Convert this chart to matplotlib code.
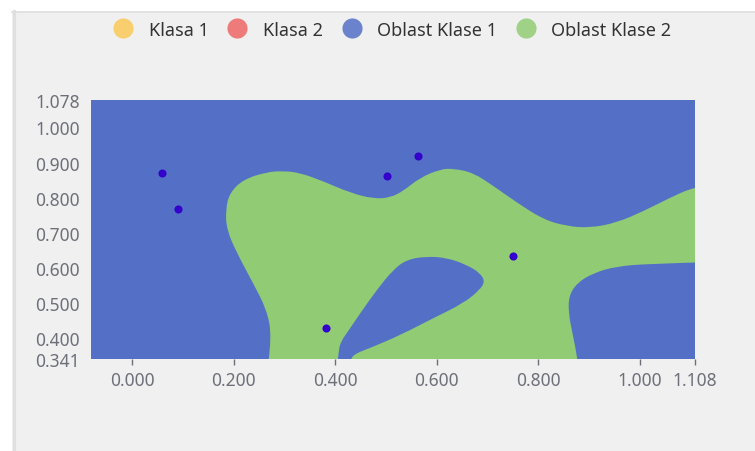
import matplotlib.pyplot as plt
from matplotlib.lines import Line2D
from matplotlib.patches import PathPatch, Rectangle
from matplotlib.path import Path

plt.rcParams["font.family"] = ["Noto Sans", "DejaVu Sans"]

# legend entries
legend_labels = ["Klasa 1", "Klasa 2", "Oblast Klase 1", "Oblast Klase 2"]
legend_colors = ["#fac858", "#ee6666", "#5470c6", "#91cc75"]

# axis ranges and tick values
x_range = [-0.082, 1.108]
y_range = [0.341, 1.078]
x_ticks = [0.0, 0.2, 0.4, 0.6, 0.8, 1.0, 1.108]
y_ticks = [0.341, 0.4, 0.5, 0.6, 0.7, 0.8, 0.9, 1.0, 1.078]

# boundary of the class-2 region
green_x = [0.268, 0.275, 0.265, 0.238, 0.206, 0.186, 0.184, 0.192, 0.219, 0.265,
           0.297, 0.330, 0.376, 0.429, 0.475, 0.508, 0.534, 0.567, 0.607, 0.633,
           0.672, 0.712, 0.758, 0.810, 0.856, 0.902, 0.955, 1.008, 1.060, 1.100,
           1.120, 1.120, 1.021, 0.955, 0.909, 0.876, 0.860, 0.860, 0.866, 0.873,
           0.878]
green_y = [0.330, 0.405, 0.481, 0.557, 0.643, 0.709, 0.767, 0.814, 0.852, 0.873,
           0.876, 0.871, 0.847, 0.814, 0.797, 0.800, 0.819, 0.857, 0.881, 0.883,
           0.871, 0.833, 0.786, 0.738, 0.719, 0.714, 0.729, 0.762, 0.800, 0.826,
           0.829, 0.616, 0.612, 0.605, 0.586, 0.557, 0.519, 0.471, 0.424, 0.376,
           0.330]

# class-1 island inside the class-2 region
island_x = [0.405, 0.406, 0.413, 0.423, 0.449, 0.482, 0.514, 0.541, 0.580, 0.620,
            0.659, 0.685, 0.695, 0.685, 0.653, 0.593, 0.528, 0.475, 0.432, 0.432]
island_y = [0.330, 0.367, 0.395, 0.415, 0.471, 0.538, 0.595, 0.624, 0.633, 0.629,
            0.609, 0.586, 0.562, 0.538, 0.500, 0.457, 0.409, 0.376, 0.352, 0.330]

# data points
pts_x = [0.058, 0.091, 0.501, 0.563, 0.751, 0.381]
pts_y = [0.869, 0.767, 0.862, 0.919, 0.633, 0.430]


def smooth_region(xs, ys):
    # closed path: outline points inside the axes act as curve control points,
    # points outside the axes (where the region meets the frame) stay sharp
    pts = list(zip(xs, ys))
    n = len(pts)

    def hard(p):
        return p[0] > x_range[1] or p[0] < x_range[0] or p[1] < y_range[0] or p[1] > y_range[1]

    verts, codes = [pts[0]], [Path.MOVETO]
    for i in range(1, n):
        p, q = pts[i], pts[(i + 1) % n]
        if hard(p):
            verts.append(p)
            codes.append(Path.LINETO)
        else:
            verts += [p, ((p[0] + q[0]) / 2, (p[1] + q[1]) / 2)]
            codes += [Path.CURVE3, Path.CURVE3]
    verts.append(pts[0])
    codes.append(Path.CLOSEPOLY)
    return Path(verts, codes)


W, H = 755, 452
fig = plt.figure(figsize=(W / 100, H / 100), dpi=100, facecolor="white")

# card background
fig.patches.append(Rectangle((12 / W, 0), 1, 1 - 12 / H, transform=fig.transFigure,
                             facecolor="#f0f0f0", edgecolor="none", zorder=-2))
fig.lines.append(Line2D([13.5 / W, 13.5 / W], [0, 1 - 12 / H], transform=fig.transFigure,
                        color="#e0e0e0", linewidth=2.2, zorder=-1))
fig.lines.append(Line2D([12 / W, 1], [1 - 12.5 / H, 1 - 12.5 / H], transform=fig.transFigure,
                        color="#e0e0e0", linewidth=1.2, zorder=-1))

ax = fig.add_axes([90.7 / W, 1 - 360 / H, (694.5 - 90.7) / W, (360 - 101) / H])
ax.set_facecolor("none")

ax.fill_between(x_range, y_range[0], y_range[1], color=legend_colors[2], linewidth=0, zorder=1)
ax.add_patch(PathPatch(smooth_region(green_x, green_y), facecolor=legend_colors[3],
                       edgecolor="none", zorder=2))
ax.add_patch(PathPatch(smooth_region(island_x, island_y), facecolor=legend_colors[2],
                       edgecolor="none", zorder=3))
ax.scatter(pts_x, pts_y, s=34, color="#3300cc", linewidths=0, zorder=4)

ax.set_xlim(x_range)
ax.set_ylim(y_range)
ax.set_xticks(x_ticks)
ax.set_xticklabels([f"{v:.3f}" for v in x_ticks])
ax.set_yticks(y_ticks)
ax.set_yticklabels([f"{v:.3f}" for v in y_ticks])
ax.tick_params(axis="x", length=4, width=1, color="#6e7079", pad=5,
               labelsize=12.5, labelcolor="#6e7079")
ax.tick_params(axis="y", length=0, pad=8, labelsize=12.5, labelcolor="#6e7079")
for s in ax.spines.values():
    s.set_visible(False)

handles = [Line2D([], [], linestyle="none", marker="o", markersize=14.5,
                  markerfacecolor=c, markeredgewidth=0, alpha=0.85)
           for c in legend_colors]
fig.legend(handles, legend_labels, loc="center", bbox_to_anchor=(0.519, 1 - 30.7 / H),
           ncol=4, frameon=False, fontsize=13, handlelength=1.2, handletextpad=0.8,
           columnspacing=1.0, labelcolor="#333333")

fig.savefig("out.png", dpi=100, facecolor=fig.get_facecolor())
